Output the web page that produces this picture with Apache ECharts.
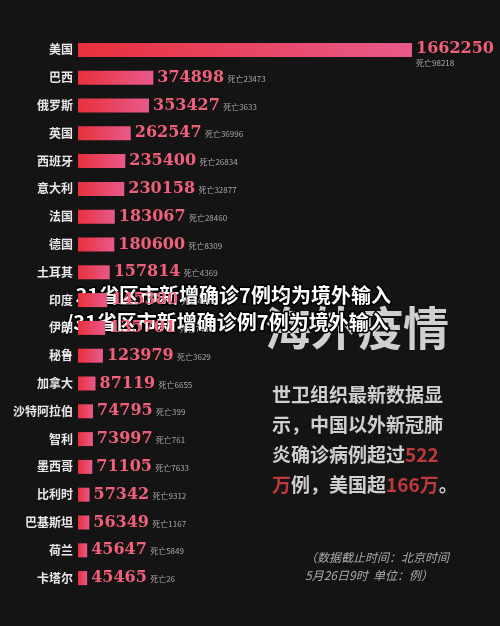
<!DOCTYPE html><html><head><meta charset="utf-8"><script src="https://cdn.jsdelivr.net/npm/echarts@6/dist/echarts.min.js"></script>
<style>body{margin:0;background:#141414}#c{width:500px;height:626px}</style></head><body><div id="c"></div><script>
const countries=['美国','巴西','俄罗斯','英国','西班牙','意大利','法国','德国','土耳其','印度','伊朗','秘鲁','加拿大','沙特阿拉伯','智利','墨西哥','比利时','巴基斯坦','荷兰','卡塔尔'];
const cases=[1662250,374898,353427,262547,235400,230158,183067,180600,157814,145380,135701,123979,87119,74795,73997,71105,57342,56349,45647,45465];
const deaths=[98218,23473,3633,36996,26834,32877,28460,8309,4369,4167,7451,3629,6655,399,761,7633,9312,1167,5849,26];
const font='"Noto Sans CJK SC"';
const c=echarts.init(document.getElementById('c'));
const barData=cases.map((v,i)=>i===0?{value:v,label:{formatter:p=>'{v|'+p.value+'}\n{d|死亡'+deaths[0]+'}',offset:[0,4]}}:v);
c.setOption({backgroundColor:'#141414',
grid:{left:78,right:88,top:36,bottom:34},
xAxis:{type:'value',max:1662250,show:false},
yAxis:{type:'category',inverse:true,data:countries,axisLine:{show:false},axisTick:{show:false},
 axisLabel:{color:'#e8e8e8',fontSize:12,fontWeight:'bold',fontFamily:font,margin:5}},
series:[{type:'bar',data:barData,barWidth:14,
 itemStyle:{color:new echarts.graphic.LinearGradient(0,0,1,0,[{offset:0,color:'#e8303c'},{offset:1,color:'#e85a8a'}])},
 label:{show:true,position:'right',distance:4,formatter:p=>'{v|'+p.value+'} {d|死亡'+deaths[p.dataIndex]+'}',
  rich:{v:{color:'#f0607a',fontSize:16,fontWeight:'bold',fontFamily:'"DejaVu Serif"'},d:{color:'#aaa',fontSize:8,fontFamily:font,padding:[2,0,0,0]}}}}],
graphic:[
 {type:'text',left:265,top:305,style:{text:'海外疫情',fill:'#d0d0d0',font:'bold 46px '+font}},
 {type:'text',left:272,top:380,style:{text:'世卫组织最新数据显\n示，中国以外新冠肺\n炎确诊病例超过{r|522}\n{r|万}例，美国超{r|166万}。',fill:'#cfcfcf',font:'bold 19px '+font,lineHeight:30,rich:{r:{fill:'#c0383a',font:'bold 19px '+font}}}},
 {type:'text',left:305,top:548,style:{text:'（数据截止时间：北京时间\n5月26日9时  单位：例）',fill:'#aaa',font:'italic 12px '+font,lineHeight:18}},
 {type:'text',left:74,top:284,style:{text:'31省区市新增确诊7例均为境外输入',fill:'#fff',font:'bold 20px '+font,stroke:'#000',lineWidth:3}},
 {type:'text',left:64,top:311,style:{text:'/31省区市新增确诊例7例为境外输入',fill:'#fff',font:'bold 20px '+font,stroke:'#000',lineWidth:3}}
]});
</script></body></html>
